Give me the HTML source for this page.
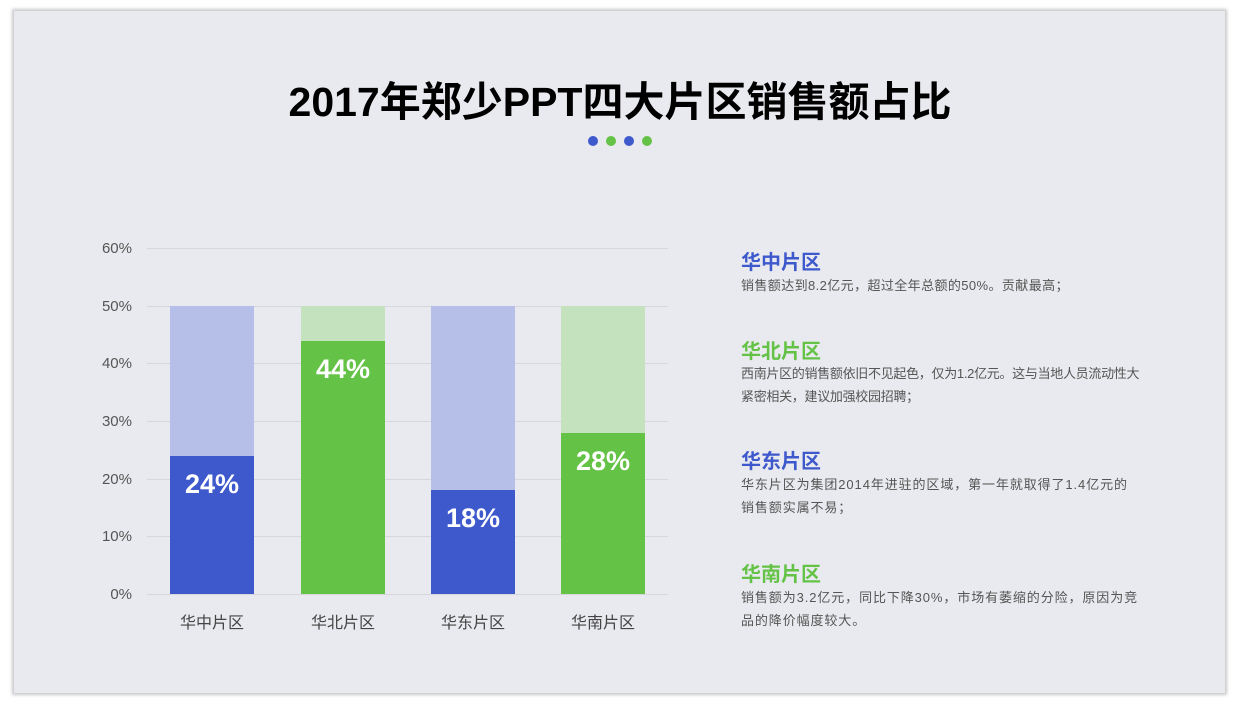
<!DOCTYPE html>
<html><head><meta charset="utf-8"><style>
body{margin:0;width:1240px;height:705px;background:#fff;position:relative;overflow:hidden;font-family:"Liberation Sans","Noto Sans CJK SC",sans-serif;}
.slide{position:absolute;left:14px;top:11px;width:1211px;height:682px;background:#e9eaef;box-shadow:0 0 3px 2px #c8c8c8;}
.t{position:absolute;white-space:nowrap}
.title{left:0;width:1240px;text-align:center;top:68px;font-size:41px;font-weight:bold;color:#000;}
.dot{position:absolute;top:136px;width:10px;height:10px;border-radius:50%}
.grid{position:absolute;left:147px;width:521px;height:1px;background:#d6d7dc}
.yl{position:absolute;left:90px;width:42px;text-align:right;font-size:15px;color:#555}
.bar{position:absolute;width:84px}
.pct{position:absolute;width:84px;text-align:center;color:#fff;font-weight:bold;font-size:27px}
.xl{position:absolute;width:120px;text-align:center;font-size:16px;color:#444;top:609px}
.h{position:absolute;left:741px;font-size:20px;font-weight:bold}
.p{position:absolute;left:741px;font-size:13px;color:#555;line-height:23px;white-space:nowrap}
</style></head><body>
<div class="slide"></div>
<div class="t title">2017年郑少PPT四大片区销售额占比</div>
<div class="dot" style="left:588px;background:#3d59cc"></div>
<div class="dot" style="left:606px;background:#64c346"></div>
<div class="dot" style="left:624px;background:#3d59cc"></div>
<div class="dot" style="left:642px;background:#64c346"></div>

<div class="grid" style="top:248px"></div>
<div class="grid" style="top:306px"></div>
<div class="grid" style="top:363px"></div>
<div class="grid" style="top:421px"></div>
<div class="grid" style="top:479px"></div>
<div class="grid" style="top:536px"></div>
<div class="grid" style="top:594px"></div>
<div class="yl" style="top:240px">60%</div>
<div class="yl" style="top:298px">50%</div>
<div class="yl" style="top:355px">40%</div>
<div class="yl" style="top:413px">30%</div>
<div class="yl" style="top:471px">20%</div>
<div class="yl" style="top:528px">10%</div>
<div class="yl" style="top:586px">0%</div>

<div class="bar" style="left:170px;top:306px;height:288px;background:#b5bfe8"></div>
<div class="bar" style="left:170px;top:456px;height:138px;background:#3d59cc"></div>
<div class="pct" style="left:170px;top:469px">24%</div>
<div class="bar" style="left:301px;top:306px;height:288px;background:#c4e2bd"></div>
<div class="bar" style="left:301px;top:341px;height:253px;background:#64c346"></div>
<div class="pct" style="left:301px;top:354px">44%</div>
<div class="bar" style="left:431px;top:306px;height:288px;background:#b5bfe8"></div>
<div class="bar" style="left:431px;top:490px;height:104px;background:#3d59cc"></div>
<div class="pct" style="left:431px;top:503px">18%</div>
<div class="bar" style="left:561px;top:306px;height:288px;background:#c4e2bd"></div>
<div class="bar" style="left:561px;top:433px;height:161px;background:#64c346"></div>
<div class="pct" style="left:561px;top:446px">28%</div>

<div class="xl" style="left:152px">华中片区</div>
<div class="xl" style="left:283px">华北片区</div>
<div class="xl" style="left:413px">华东片区</div>
<div class="xl" style="left:543px">华南片区</div>

<div class="h" style="top:246px;color:#3d59cc">华中片区</div>
<div class="p" style="top:274px;letter-spacing:0.4px">销售额达到8.2亿元，超过全年总额的50%。贡献最高；</div>
<div class="h" style="top:335px;color:#64c346">华北片区</div>
<div class="p" style="top:362px;letter-spacing:-0.3px">西南片区的销售额依旧不见起色，仅为1.2亿元。这与当地人员流动性大<br>紧密相关，建议加强校园招聘；</div>
<div class="h" style="top:445px;color:#3d59cc">华东片区</div>
<div class="p" style="top:473px;letter-spacing:0.9px">华东片区为集团2014年进驻的区域，第一年就取得了1.4亿元的<br>销售额实属不易；</div>
<div class="h" style="top:558px;color:#64c346">华南片区</div>
<div class="p" style="top:586px;letter-spacing:0.9px">销售额为3.2亿元，同比下降30%，市场有萎缩的分险，原因为竞<br>品的降价幅度较大。</div>
</body></html>
